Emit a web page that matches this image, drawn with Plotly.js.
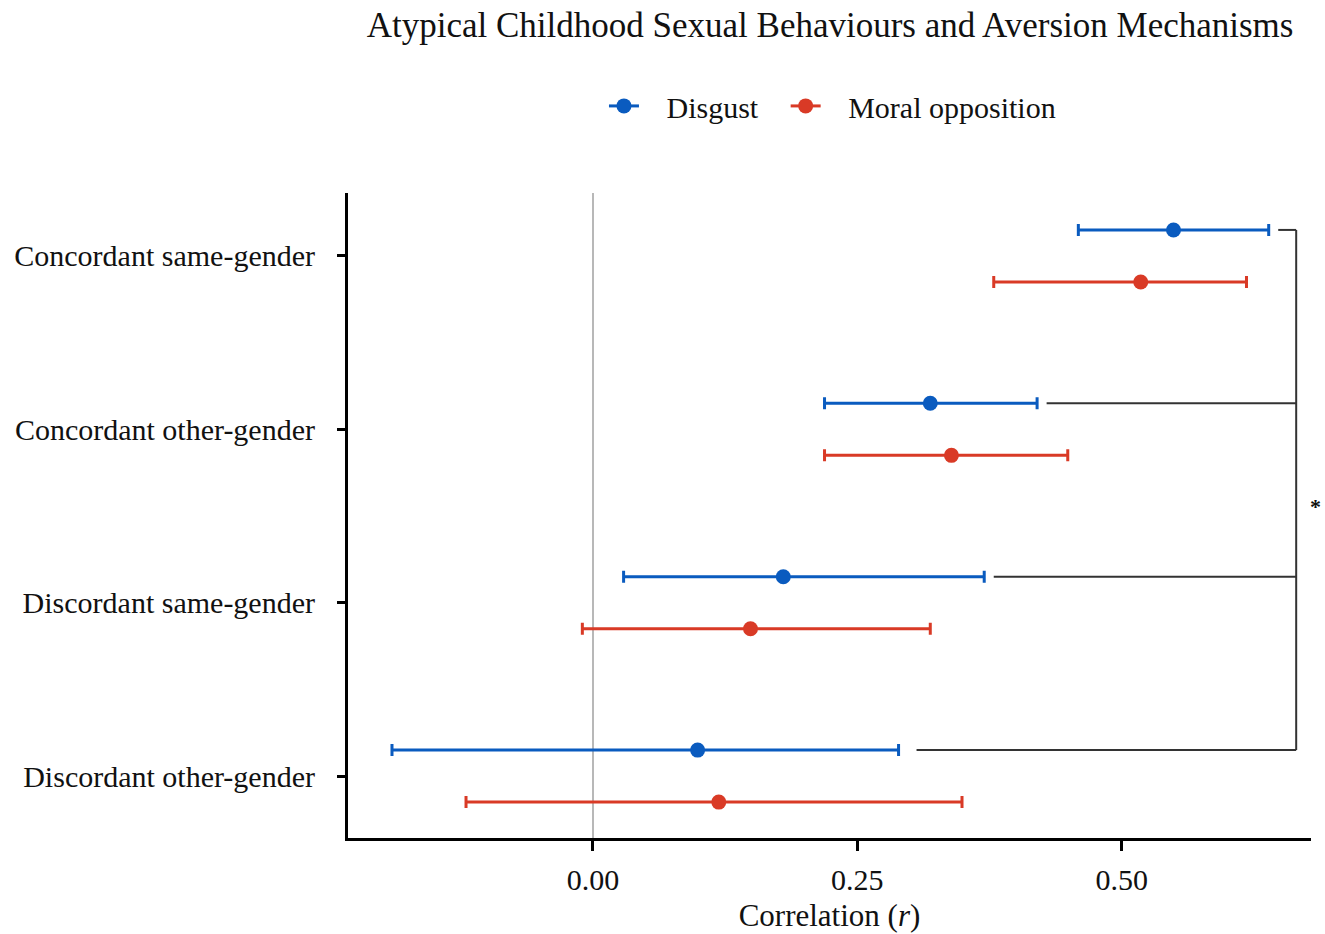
<!DOCTYPE html>
<html>
<head>
<meta charset="utf-8">
<script src="https://cdn.plot.ly/plotly-3.0.1.min.js"></script>
<style>html,body{margin:0;padding:0;background:#fff;}#chart{width:1325px;height:934px;}</style>
</head>
<body>
<div id="chart"></div>
<script>
const categories = ["Concordant same-gender", "Concordant other-gender", "Discordant same-gender", "Discordant other-gender"];
const disgustR   = [0.549, 0.319, 0.180, 0.099];
const disgustLo  = [0.459, 0.219, 0.029, -0.190];
const disgustHi  = [0.639, 0.420, 0.370, 0.289];
const moralR     = [0.518, 0.339, 0.149, 0.119];
const moralLo    = [0.379, 0.219, -0.010, -0.120];
const moralHi    = [0.618, 0.449, 0.319, 0.349];
const seriesNames = ["Disgust", "Moral opposition"];
const xTickVals  = [0, 0.25, 0.5];
const xTickText  = ["0.00", "0.25", "0.50"];
const sigLabel   = "*";

const blue = "#0A5BBF", red = "#D93A26";
const dodge = 0.15;
const idx = categories.map((c, i) => i);
const yD = idx.map(i => i - dodge);
const yM = idx.map(i => i + dodge);
const nb = "\u00a0";

function errTrace(x, lo, hi, y, color, name) {
  return {
    type: "scatter", mode: "markers", x: x, y: y, name: name, showlegend: false,
    marker: {color: color, size: 15},
    error_x: {type: "data", symmetric: false,
      array: x.map((v, i) => hi[i] - v), arrayminus: x.map((v, i) => v - lo[i]),
      color: color, thickness: 3, width: 6},
    cliponaxis: false, hoverinfo: "x+y"
  };
}
const traces = [
  errTrace(disgustR, disgustLo, disgustHi, yD, blue, seriesNames[0]),
  errTrace(moralR, moralLo, moralHi, yM, red, seriesNames[1]),
  {type: "scatter", mode: "lines+markers", x: [null], y: [null], name: nb + nb + nb + seriesNames[0] + nb + nb + nb,
   marker: {color: blue, size: 15}, line: {color: blue, width: 3}},
  {type: "scatter", mode: "lines+markers", x: [null], y: [null], name: nb + nb + nb + seriesNames[1],
   marker: {color: red, size: 15}, line: {color: red, width: 3}}
];

const bx = 0.665, gap = 0.009;
const shapes = [{type: "line", xref: "x", yref: "y", x0: bx, x1: bx, y0: yD[0], y1: yD[3],
  line: {color: "#333", width: 2}}];
idx.forEach(i => {
  shapes.push({type: "line", xref: "x", yref: "y", x0: disgustHi[i] + gap + (i === 3 ? 0.008 : 0), x1: bx,
    y0: yD[i], y1: yD[i], line: {color: "#333", width: 2}});
});

const font = {family: "Liberation Serif, Times New Roman, serif", color: "#111"};
const layout = {
  width: 1325, height: 934,
  margin: {l: 348, r: 14, t: 193, b: 96},
  paper_bgcolor: "#fff", plot_bgcolor: "#fff",
  font: Object.assign({size: 30}, font),
  title: {text: "Atypical Childhood Sexual Behaviours and Aversion Mechanisms",
    x: 0.6265, xanchor: "center", y: 0.974, yanchor: "middle",
    font: Object.assign({size: 35}, font)},
  showlegend: true,
  legend: {orientation: "h", x: 0.2658, xanchor: "left", y: 1.135, yanchor: "middle",
    font: Object.assign({size: 30}, font), traceorder: "normal"},
  xaxis: {range: [-0.2316, 0.679], tickvals: xTickVals, ticktext: xTickText,
    showgrid: false, zeroline: true, zerolinecolor: "#b8b8b8", zerolinewidth: 2,
    showline: true, linecolor: "#000", linewidth: 3, ticks: "outside", ticklen: 10, tickwidth: 3,
    tickcolor: "#000", tickfont: Object.assign({size: 30}, font), ticklabelstandoff: 3,
    title: {text: "Correlation (<i>r</i>)", font: Object.assign({size: 31}, font), standoff: 10}},
  yaxis: {range: [3.357, -0.363], tickvals: idx, ticktext: categories,
    showgrid: false, zeroline: false, showline: true, linecolor: "#000", linewidth: 3,
    ticks: "outside", ticklen: 8, tickwidth: 3, tickcolor: "#000", ticklabelstandoff: 16,
    tickfont: Object.assign({size: 30}, font)},
  shapes: shapes,
  annotations: [{xref: "x", yref: "y", x: bx, y: (yD[0] + yD[3]) / 2, xshift: 19, yshift: -16,
    text: "<b>" + sigLabel + "</b>", showarrow: false, font: Object.assign({size: 22}, font), xanchor: "center", yanchor: "middle"}]
};
Plotly.newPlot("chart", traces, layout, {displayModeBar: false});
</script>
</body>
</html>
